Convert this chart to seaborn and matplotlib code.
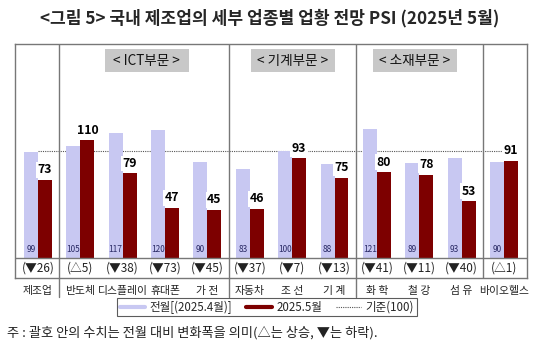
import matplotlib
matplotlib.use("Agg")
import matplotlib.pyplot as plt
from matplotlib.lines import Line2D
from matplotlib.patches import Rectangle
import numpy as np
import pandas as pd
import seaborn as sns

# data
categories = ["제조업", "반도체", "디스플레이", "휴대폰", "가 전", "자동차",
              "조 선", "기 계", "화 학", "철 강", "섬 유", "바이오헬스"]
prev_month = [99, 105, 117, 120, 90, 83, 100, 88, 121, 89, 93, 90]
this_month = [73, 110, 79, 47, 45, 46, 93, 75, 80, 78, 53, 91]
changes = ["(▼26)", "(△5)", "(▼38)", "(▼73)", "(▼45)", "(▼37)",
           "(▼7)", "(▼13)", "(▼41)", "(▼11)", "(▼40)", "(△1)"]
series_names = ["전월[(2025.4월)]", "2025.5월"]
sections = ["< ICT부문 >", "< 기계부문 >", "< 소재부문 >"]
section_centers = [2.57, 6.02, 8.9]
dividers = [0.5, 4.5, 7.5, 10.5]
baseline_value = 100

light = "#c8c8f2"
dark = "#7d0000"

df = pd.DataFrame({
    "업종": categories * 2,
    "PSI": prev_month + this_month,
    "구분": [series_names[0]] * len(categories) + [series_names[1]] * len(categories),
})

sns.set_style("white")
plt.rcParams["font.family"] = ["Noto Sans CJK KR", "DejaVu Sans"]

fig = plt.figure(figsize=(5.4, 3.52), dpi=100)
ax = fig.add_axes([15 / 540, 1 - 278 / 352, 512 / 540, 234 / 352])

# reference line behind the bars
ax.plot([0, len(categories) - 1], [baseline_value] * 2, ls=(0, (1, 1)),
        color="#555555", lw=0.8, zorder=1)

sns.barplot(data=df, x="업종", y="PSI", hue="구분", hue_order=series_names,
            palette=[light, dark], saturation=1, width=0.66, ax=ax,
            legend=False, zorder=2, linewidth=0, edgecolor="none")

ax.set_xlim(-0.543, 11.544)
ax.set_ylim(-18.7, 200)
ax.set_xticks([])
ax.set_yticks([])
ax.set_xlabel("")
ax.set_ylabel("")
for s in ax.spines.values():
    s.set_color("#777777")
    s.set_linewidth(1.0)

ax.axhline(0, color="#777777", lw=1.0, zorder=3)

for i, d in enumerate(dividers):
    ax.axvline(d, color="#777777", lw=1.0, zorder=3)
    if i < 3:
        ax.plot([d, d], [-18.7, -36.5], color="#777777", lw=1.0, clip_on=False)

off = 0.165
for i, (p, c) in enumerate(zip(prev_month, this_month)):
    ax.text(i - off, 8.4, str(p), ha="center", va="center", fontsize=6,
            color="#2b2b66", zorder=4)
    ax.text(i + off, c + 9.3, str(c), ha="center", va="center", fontsize=8.8,
            fontweight="bold", color="black", zorder=5,
            bbox=dict(boxstyle="square,pad=0.12", fc="white", ec="none"))
    ax.text(i, -9.4, changes[i], ha="center", va="center", fontsize=8.5, color="#222222")
    ax.text(i, -30.5, categories[i], ha="center", va="center", fontsize=7.8, color="#222222")

for name, cx in zip(sections, section_centers):
    ax.add_patch(Rectangle((cx - 1.0, 173.8), 2.0, 21.5, fc="#c8c8c8", ec="none", zorder=4))
    ax.text(cx, 184.5, name, ha="center", va="center", fontsize=9.8, color="#111111", zorder=5)

handles = [Line2D([], [], color=light, lw=3),
           Line2D([], [], color=dark, lw=3),
           Line2D([], [], color="#555555", lw=0.8, ls=(0, (1, 1)))]
leg = fig.legend(handles, series_names + ["기준(100)"], loc="center",
                 bbox_to_anchor=(267 / 540, 1 - 307 / 352), ncol=3, fontsize=8.3,
                 frameon=True, fancybox=False, handlelength=2.2, columnspacing=1.2,
                 handletextpad=0.4, borderpad=0.2)
leg.get_frame().set_edgecolor("#333333")
leg.get_frame().set_linewidth(0.8)

fig.text(0.5, 1 - 18 / 352, "<그림 5> 국내 제조업의 세부 업종별 업황 전망 PSI (2025년 5월)",
         ha="center", va="center", fontsize=12.3, fontweight="bold")
fig.text(7 / 540, 1 - 333 / 352, "주 : 괄호 안의 수치는 전월 대비 변화폭을 의미(△는 상승, ▼는 하락).",
         ha="left", va="center", fontsize=9.5, color="#222222")

fig.savefig("out.png", dpi=100)
